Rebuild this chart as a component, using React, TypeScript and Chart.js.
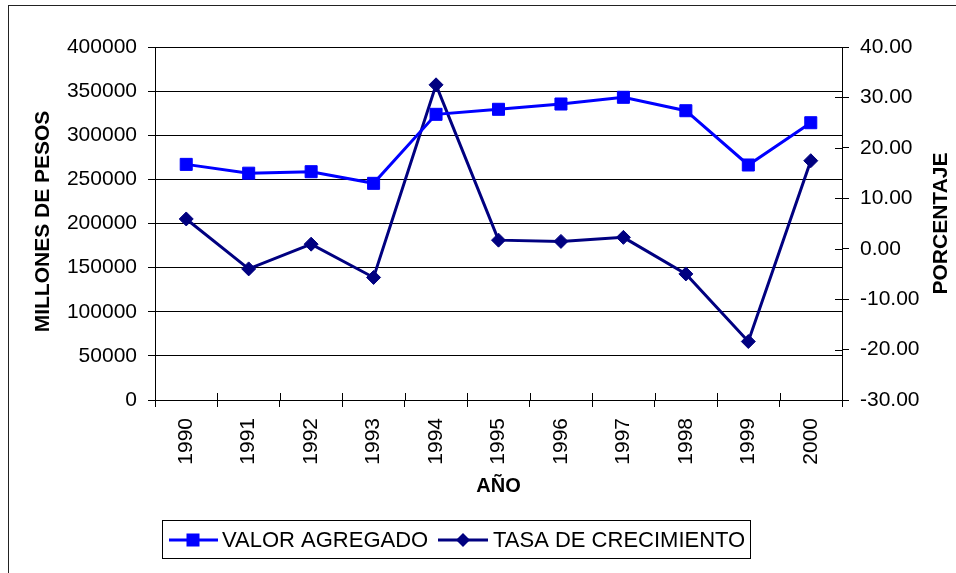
import React, { useEffect, useRef } from "react";
import { Chart, registerables } from "chart.js";

Chart.register(...registerables);

const years = ["1990", "1991", "1992", "1993", "1994", "1995", "1996", "1997", "1998", "1999", "2000"];
const valorAgregado = [267000, 257000, 258700, 245500, 323700, 329400, 335400, 343000, 327800, 266300, 314200];
const tasaCrecimiento = [5.9, -4.0, 0.9, -5.7, 32.5, 1.7, 1.45, 2.25, -5.0, -18.4, 17.45];
const leftTitle = "MILLONES DE PESOS";
const rightTitle = "PORCENTAJE";
const xTitle = "AÑO";
const legendLabels = ["VALOR AGREGADO", "TASA DE CRECIMIENTO"];

const BLUE = "#0000FF";
const NAVY = "#000080";
const FONT = "'Liberation Sans', Arial, sans-serif";

const decorPlugin = {
  id: "decor",
  afterDraw(chart: any) {
    const ctx = chart.ctx;
    const y1 = chart.scales.y1;
    const area = chart.chartArea;
    ctx.save();
    // inner tick marks
    ctx.strokeStyle = "#000";
    ctx.lineWidth = 1;
    ctx.beginPath();
    const n = years.length;
    for (let i = 0; i <= n; i++) {
      const px = Math.round(area.left + (i * (area.right - area.left)) / n) + 0.5;
      ctx.moveTo(px, area.bottom - 7);
      ctx.lineTo(px, area.bottom);
    }
    y1.ticks.forEach((t: any) => {
      const py = Math.round(y1.getPixelForValue(t.value)) + 0.5;
      ctx.moveTo(area.right - 7, py);
      ctx.lineTo(area.right, py);
    });
    ctx.stroke();

    // titles
    ctx.fillStyle = "#000";
    ctx.font = `bold 21px ${FONT}`;
    ctx.textAlign = "center";
    ctx.textBaseline = "middle";
    const cy = (area.top + area.bottom) / 2;
    ctx.save();
    ctx.translate(43.5, cy - 2);
    ctx.rotate(-Math.PI / 2);
    ctx.fillText(leftTitle, 0, 0);
    ctx.restore();
    ctx.save();
    ctx.translate(941, cy);
    ctx.rotate(-Math.PI / 2);
    ctx.fillText(rightTitle, 0, 0);
    ctx.restore();
    ctx.font = `bold 20px ${FONT}`;
    ctx.fillText(xTitle, (area.left + area.right) / 2, 486);

    // legend
    ctx.strokeStyle = "#000";
    ctx.lineWidth = 1;
    ctx.strokeRect(162.5, 520.5, 588, 38);
    const ly = 540;
    ctx.strokeStyle = BLUE;
    ctx.lineWidth = 3;
    ctx.beginPath();
    ctx.moveTo(169, ly);
    ctx.lineTo(218, ly);
    ctx.stroke();
    ctx.fillStyle = BLUE;
    ctx.fillRect(193 - 6.5, ly - 6.5, 13, 13);
    ctx.strokeStyle = NAVY;
    ctx.beginPath();
    ctx.moveTo(438, ly);
    ctx.lineTo(488, ly);
    ctx.stroke();
    ctx.fillStyle = NAVY;
    ctx.beginPath();
    ctx.moveTo(463, ly - 7);
    ctx.lineTo(470, ly);
    ctx.lineTo(463, ly + 7);
    ctx.lineTo(456, ly);
    ctx.closePath();
    ctx.fill();
    ctx.fillStyle = "#000";
    ctx.font = `22px ${FONT}`;
    ctx.textAlign = "left";
    ctx.fillText(legendLabels[0], 222, ly + 1);
    ctx.fillText(legendLabels[1], 493, ly + 1);
    ctx.restore();
  },
};

export default function App() {
  const ref = useRef<HTMLCanvasElement | null>(null);
  useEffect(() => {
    if (!ref.current) return;
    const chart = new Chart(ref.current, {
      type: "line",
      data: {
        labels: years,
        datasets: [
          {
            label: legendLabels[0],
            data: valorAgregado,
            yAxisID: "y",
            borderColor: BLUE,
            backgroundColor: BLUE,
            borderWidth: 3,
            pointStyle: "rect",
            pointRadius: 8.5,
            pointBorderWidth: 1,
            pointBorderColor: BLUE,
            pointBackgroundColor: BLUE,
            tension: 0,
          },
          {
            label: legendLabels[1],
            data: tasaCrecimiento,
            yAxisID: "y1",
            borderColor: NAVY,
            backgroundColor: NAVY,
            borderWidth: 3,
            pointStyle: "rectRot",
            pointRadius: 7,
            pointBorderWidth: 1,
            pointBorderColor: NAVY,
            pointBackgroundColor: NAVY,
            tension: 0,
          },
        ],
      },
      options: {
        animation: false,
        responsive: true,
        maintainAspectRatio: false,
        layout: { padding: { top: 47, left: 0, right: 0, bottom: 0 } },
        plugins: { legend: { display: false }, tooltip: { enabled: false }, title: { display: false } },
        scales: {
          x: {
            type: "category",
            offset: true,
            grid: { offset: true, drawOnChartArea: false, tickLength: 7, color: "#000" },
            border: { color: "#000", width: 1 },
            ticks: {
              minRotation: 90,
              maxRotation: 90,
              padding: 11,
              color: "#000",
              font: { family: FONT, size: 21 },
            },
            afterFit: (s: any) => { s.height = 173; },
          },
          y: {
            position: "left",
            min: 0,
            max: 400000,
            ticks: {
              stepSize: 50000,
              padding: 11,
              color: "#000",
              font: { family: FONT, size: 21 },
              callback: (v: any) => String(v),
            },
            grid: { color: "#000", tickLength: 7 },
            border: { color: "#000", width: 1 },
            afterFit: (s: any) => { s.width = 155; },
          },
          y1: {
            position: "right",
            min: -30,
            max: 40,
            ticks: {
              stepSize: 10,
              padding: 11,
              color: "#000",
              font: { family: FONT, size: 21 },
              callback: (v: any) => Number(v).toFixed(2),
            },
            grid: { drawOnChartArea: false, color: "#000", tickLength: 7 },
            border: { color: "#000", width: 1 },
            afterFit: (s: any) => { s.width = 114; },
          },
        },
      },
      plugins: [decorPlugin],
    });
    return () => chart.destroy();
  }, []);
  return (
    <div style={{ position: "fixed", left: 0, top: 0, width: 956, height: 573, overflow: "hidden", background: "#fff" }}>
      <div style={{ position: "absolute", left: 8, top: 5, width: 1100, height: 800, border: "1px solid #222" }} />
      <div style={{ position: "absolute", left: 0, top: 0, width: 956, height: 573 }}>
        <canvas ref={ref} />
      </div>
    </div>
  );
}
